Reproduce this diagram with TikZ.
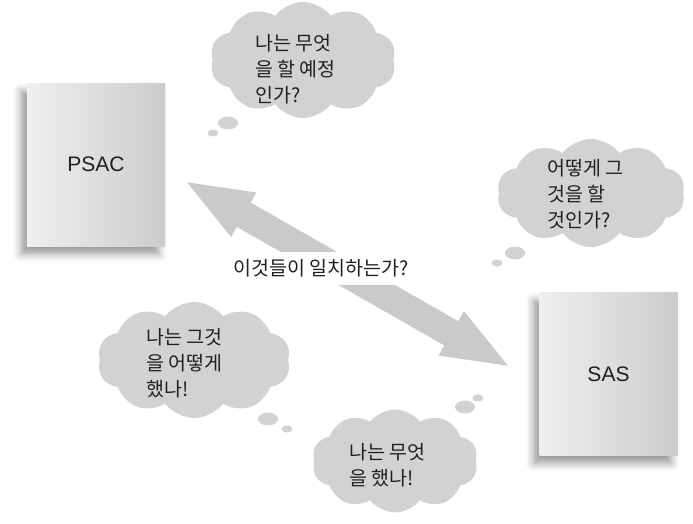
\documentclass[tikz,border=0pt]{standalone}
\usepackage{fontspec}
\setmainfont{Liberation Sans}
\newfontfamily\kofont{Noto Sans CJK KR}
\usetikzlibrary{shapes.symbols, positioning, arrows.meta, calc, shadows.blur}
\definecolor{arrowgray}{HTML}{C9CACC}
\definecolor{cloudgray}{HTML}{D1D2D4}
\definecolor{boxlight}{HTML}{EEEFF0}
\definecolor{boxmid}{HTML}{E4E5E7}
\definecolor{boxdark}{HTML}{CBCCCE}
\definecolor{inkgray}{HTML}{231F20}
\tikzset{
  system/.style={rectangle, minimum width=138, minimum height=163, inner sep=0pt, left color=boxlight, middle color=boxmid, right color=boxdark, text=inkgray, font=\fontsize{21}{25}\selectfont, blur shadow={shadow xshift=-6pt, shadow yshift=-8pt, shadow blur radius=8pt, shadow opacity=40}},
  thought/.style={cloud, cloud puffs=10, cloud puff arc=105, cloud ignores aspect, fill=cloudgray, draw=none, inner sep=0pt},
  words/.style={anchor=west, align=left, inner sep=0pt, text=inkgray, font=\kofont\fontsize{19.5}{26}\selectfont},
  bigarrow/.style={line width=28pt, draw=arrowgray, {Triangle[width=45pt,length=70pt]}-{Triangle[width=45pt,length=70pt]}},
  matchlabel/.style={fill=white, inner xsep=3pt, inner ysep=0pt, minimum height=33, text=inkgray, font=\kofont\fontsize{19.5}{24}\selectfont}
}
\newcommand{\thoughttrail}[4]{
    \fill[cloudgray] (#1) ellipse (10 and 6.5);
    \fill[cloudgray] (#2) ellipse (5.5 and 3.5);
    \coordinate (#3) at (#1);
    \coordinate (#4) at (#2);
}

\begin{document}
\begin{tikzpicture}[x=1pt, y=-1pt]
    \useasboundingbox (0,0) rectangle (693,523);

    % 1. Cajas PSAC y SAS
    \node[system] (psac) at (96,164.5) {PSAC};
    \node[system] (sas) at (608.5,374) {SAS};

    % 2. Flecha doble entre ambas
    \coordinate (tipA) at (183,180);
    \coordinate (tipB) at (512,368);
    \draw[bigarrow] (tipA) -- (tipB);
    \node[matchlabel] (match) at (321,268.5) {이것들이 일치하는가?};

    % 3. Nubes de pensamiento
    \node[thought, minimum width=186, minimum height=116] (cloudA) at (303,60) {};
    \node[words] (textA) at (255,69) {나는 무엇\\을 할 예정\\인가?};
    \thoughttrail{228,123}{213,133}{trailA1}{trailA2}

    \node[thought, minimum width=188, minimum height=108] (cloudB) at (591,193) {};
    \node[words] (textB) at (547,194) {어떻게 그\\것을 할\\것인가?};
    \thoughttrail{515,253}{497,263}{trailB1}{trailB2}

    \node[thought, minimum width=193, minimum height=116] (cloudC) at (194,360) {};
    \node[words] (textC) at (146,363) {나는 그것\\을 어떻게\\했나!};
    \thoughttrail{268,419}{287,429}{trailC1}{trailC2}

    \node[thought, minimum width=166, minimum height=103] (cloudD) at (395,461) {};
    \node[words] (textD) at (349,465) {나는 무엇\\을 했나!};
    \thoughttrail{465,407}{478,398}{trailD1}{trailD2}

\end{tikzpicture}
\end{document}
